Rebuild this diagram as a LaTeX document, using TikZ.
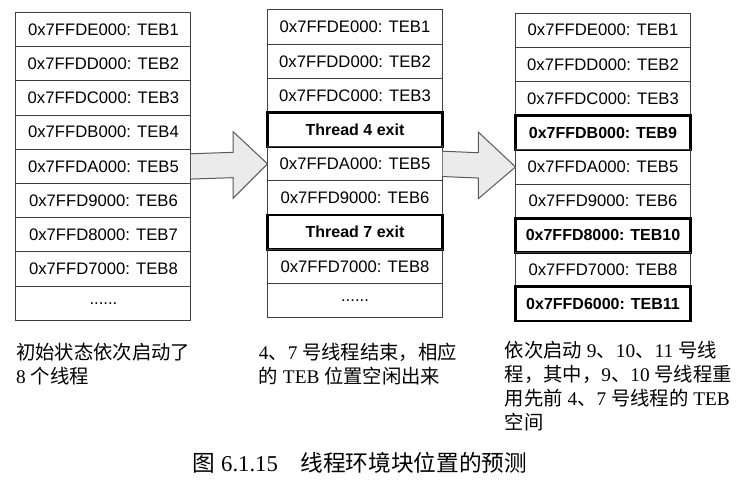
\documentclass[tikz,border=0pt]{standalone}
\usepackage{fontspec}
\setmainfont{Liberation Serif}
\setsansfont{Liberation Sans}
\newfontfamily\cn{Noto Sans CJK SC}
\usetikzlibrary{positioning, calc}

\begin{document}
\begin{tikzpicture}
\tikzset{
    cell/.style={
        draw=black!75,
        line width=0.75pt,
        minimum width=131.25pt,
        minimum height=25.65pt,
        inner sep=0pt,
        outer sep=0pt,
        font=\sffamily\fontsize{12.5pt}{14pt}\selectfont,
    },
    freed/.style={
        cell,
        draw=black,
        line width=1.9pt,
        font=\sffamily\bfseries\fontsize{12pt}{14pt}\selectfont,
    },
    bigarrow/.style={
        draw=black!65,
        fill=black!8,
        line width=0.75pt,
        line join=miter,
    },
    caption/.style={
        anchor=north west,
        align=left,
        inner sep=0pt,
        font=\fontsize{14.5pt}{18pt}\selectfont,
    },
    node distance=0pt,
}

    \useasboundingbox (0,0) rectangle (552.75pt,-363.75pt);

    % left column: eight threads started
    \node[cell] (l1) at (77.6pt,-22.2pt) {0x7FFDE000: TEB1};
    \node[cell] (l2) [below=of l1] {0x7FFDD000: TEB2};
    \node[cell] (l3) [below=of l2] {0x7FFDC000: TEB3};
    \node[cell] (l4) [below=of l3] {0x7FFDB000: TEB4};
    \node[cell] (l5) [below=of l4] {0x7FFDA000: TEB5};
    \node[cell] (l6) [below=of l5] {0x7FFD9000: TEB6};
    \node[cell] (l7) [below=of l6] {0x7FFD8000: TEB7};
    \node[cell] (l8) [below=of l7] {0x7FFD7000: TEB8};
    \node[cell] (l9) [below=of l8] {......};

    % middle column: threads 4 and 7 gone
    \node[cell] (m1) at (266.25pt,-20.3pt) {0x7FFDE000: TEB1};
    \node[cell] (m2) [below=of m1] {0x7FFDD000: TEB2};
    \node[cell] (m3) [below=of m2] {0x7FFDC000: TEB3};
    \node[freed] (m4) [below=of m3] {Thread 4 exit};
    \node[cell] (m5) [below=of m4] {0x7FFDA000: TEB5};
    \node[cell] (m6) [below=of m5] {0x7FFD9000: TEB6};
    \node[freed] (m7) [below=of m6] {Thread 7 exit};
    \node[cell] (m8) [below=of m7] {0x7FFD7000: TEB8};
    \node[cell] (m9) [below=of m8] {......};

    % right column: threads 9, 10, 11 started
    \node[cell] (r1) at (452.25pt,-22.6pt) {0x7FFDE000: TEB1};
    \node[cell] (r2) [below=of r1] {0x7FFDD000: TEB2};
    \node[cell] (r3) [below=of r2] {0x7FFDC000: TEB3};
    \node[freed] (r4) [below=of r3] {0x7FFDB000: TEB9};
    \node[cell] (r5) [below=of r4] {0x7FFDA000: TEB5};
    \node[cell] (r6) [below=of r5] {0x7FFD9000: TEB6};
    \node[freed] (r7) [below=of r6] {0x7FFD8000: TEB10};
    \node[cell] (r8) [below=of r7] {0x7FFD7000: TEB8};
    \node[freed] (r9) [below=of r8] {0x7FFD6000: TEB11};

    % arrows
    \coordinate (h1) at ($(l5.east) ! .55 ! (m5.west)$);
    \coordinate (h2) at ($(m5.east) ! .49 ! (r5.west)$);
    \draw[bigarrow] ($(l5.east)+(0,9.5pt)$) -- ($(h1)+(0,9.5pt)$) -- ($(h1)+(0,25pt)$)
        -- (m5.west) -- ($(h1)+(0,-25pt)$) -- ($(h1)+(0,-9.5pt)$) -- ($(l5.east)+(0,-9.5pt)$);
    \draw[bigarrow] ($(m5.east)+(0,9.5pt)$) -- ($(h2)+(0,9.5pt)$) -- ($(h2)+(0,25pt)$)
        -- (r5.west) -- ($(h2)+(0,-25pt)$) -- ($(h2)+(0,-9.5pt)$) -- ($(m5.east)+(0,-9.5pt)$);

    % captions below the columns
    \node[caption] (lcap) at ($(l9.south west)+(0,-17pt)$)
        {{\cn 初始状态依次启动了}\\8 {\cn 个线程}};
    \node[caption] (mcap) at ($(m9.south west)+(-6.75pt,-18.75pt)$)
        {4{\cn 、}7 {\cn 号线程结束，相应}\\{\cn 的} TEB {\cn 位置空闲出来}};
    \node[caption] (rcap) at ($(r9.south west)+(-8.25pt,-15pt)$)
        {{\cn 依次启动} 9{\cn 、}10{\cn 、}11 {\cn 号线}\\{\cn 程，其中，}9{\cn 、}10 {\cn 号线程重}\\{\cn 用先前} 4{\cn 、}7 {\cn 号线程的} TEB\\{\cn 空间}};

    % figure title
    \node[font=\fontsize{17pt}{20pt}\selectfont] (title) at (270pt,-347pt)
        {{\cn 图} 6.1.15\quad{\cn 线程环境块位置的预测}};

\end{tikzpicture}
\end{document}
